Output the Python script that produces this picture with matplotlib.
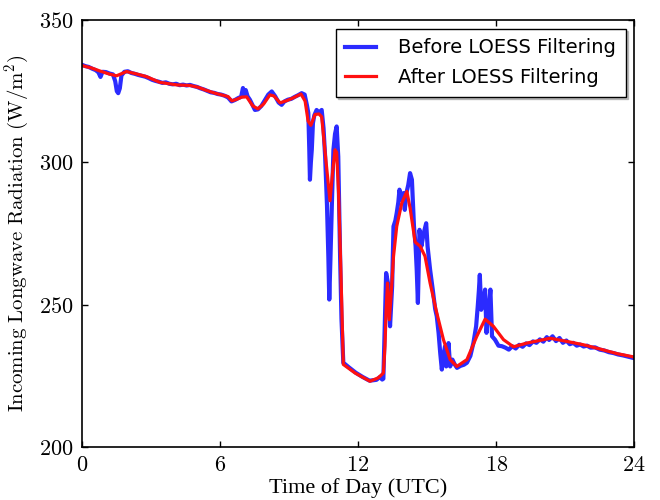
import matplotlib
matplotlib.use("Agg")
import matplotlib.pyplot as plt

# time of day (h) and incoming longwave radiation (W/m^2)
raw_t = [0.0, 0.15, 0.3, 0.45, 0.6, 0.72, 0.81, 0.9, 1.05, 1.2, 1.35, 1.45, 1.52, 1.58, 1.65,
         1.72, 1.85, 2.0, 2.15, 2.3, 2.45, 2.6, 2.75, 2.9, 3.05, 3.2, 3.35, 3.5, 3.65, 3.8,
         3.95, 4.1, 4.25, 4.4, 4.55, 4.7, 4.85, 5.0, 5.15, 5.3, 5.45, 5.6, 5.75, 5.9, 6.05,
         6.2, 6.35, 6.5, 6.65, 6.8, 6.92, 7.0, 7.05, 7.12, 7.2, 7.3, 7.45, 7.52, 7.65, 7.8,
         7.95, 8.1, 8.25, 8.4, 8.55, 8.68, 8.8, 8.95, 9.1, 9.25, 9.4, 9.55, 9.68, 9.78, 9.84,
         9.88, 9.91, 9.95, 9.99, 10.04, 10.1, 10.2, 10.3, 10.42, 10.5, 10.57, 10.65, 10.71, 10.75, 10.8,
         10.86, 10.93, 11.0, 11.07, 11.14, 11.18, 11.22, 11.28, 11.36, 11.6, 11.9, 12.2, 12.5, 12.8, 12.95,
         13.05, 13.1, 13.15, 13.22, 13.3, 13.35, 13.39, 13.44, 13.48, 13.54, 13.62, 13.68, 13.75, 13.8, 13.88,
         13.97, 14.03, 14.1, 14.18, 14.26, 14.34, 14.43, 14.5, 14.55, 14.6, 14.67, 14.75, 14.85, 14.96, 15.02,
         15.13, 15.25, 15.35, 15.42, 15.5, 15.57, 15.64, 15.7, 15.78, 15.83, 15.93, 16.0, 16.1, 16.2, 16.3,
         16.45, 16.6, 16.73, 16.88, 17.01, 17.13, 17.2, 17.25, 17.29, 17.35, 17.45, 17.52, 17.58, 17.65, 17.75,
         17.82, 17.95, 18.1, 18.25, 18.4, 18.55, 18.7, 18.85, 19.0, 19.15, 19.3, 19.45, 19.6, 19.75, 19.9,
         20.05, 20.2, 20.3, 20.45, 20.6, 20.75, 20.9, 21.05, 21.2, 21.35, 21.5, 21.65, 21.8, 21.95, 22.1,
         22.3, 22.5, 22.7, 22.9, 23.1, 23.3, 23.5, 23.7, 23.85, 24.0]
raw_lw = [334.3, 333.8, 333.5, 332.9, 332.4, 331.6, 330.0, 331.8, 331.7, 331.2, 330.9, 328.5, 325.0, 324.3, 326.0,
          330.5, 331.8, 332.0, 331.4, 331.1, 330.7, 330.4, 330.1, 329.6, 329.0, 328.6, 328.3, 327.9, 328.1, 327.6,
          327.4, 327.6, 327.1, 327.3, 327.0, 327.2, 326.8, 326.5, 326.0, 325.6, 325.1, 324.6, 324.4, 324.0, 323.8,
          323.4, 322.8, 321.4, 321.9, 322.6, 323.0, 326.1, 323.7, 325.4, 323.2, 322.0, 319.5, 318.4, 318.6, 319.8,
          321.8, 323.8, 324.9, 323.2, 321.0, 320.2, 321.4, 322.0, 322.3, 323.0, 323.6, 324.3, 323.8, 320.0, 317.3,
          305.0, 293.9, 300.0, 304.4, 313.8, 316.5, 318.4, 317.5, 318.4, 312.0, 302.0, 285.0, 266.9, 251.8, 266.0,
          284.5, 304.4, 310.0, 312.6, 302.0, 285.0, 266.9, 245.0, 229.6, 228.0, 226.1, 224.6, 223.3, 223.6, 224.6,
          223.7, 224.0, 240.0, 261.1, 257.6, 248.0, 242.4, 250.0, 256.4, 277.5, 279.5, 282.2, 286.0, 290.4, 286.8,
          289.2, 283.3, 289.2, 292.0, 296.2, 293.9, 277.5, 270.5, 262.0, 250.6, 276.3, 270.5, 275.0, 278.6, 270.5,
          262.3, 255.0, 248.5, 245.9, 240.0, 233.0, 227.2, 231.9, 235.4, 228.3, 236.5, 228.3, 230.7, 229.0, 227.8,
          228.5, 228.9, 229.6, 232.0, 236.5, 242.4, 249.4, 255.0, 260.5, 248.2, 252.0, 255.3, 240.1, 246.0, 255.3,
          238.9, 237.7, 235.6, 235.4, 234.9, 234.2, 235.4, 234.6, 235.9, 235.2, 236.4, 235.8, 237.1, 236.6, 237.8,
          237.0, 238.6, 237.6, 238.9, 237.2, 238.3, 236.6, 237.4, 236.1, 236.6, 235.6, 236.0, 235.3, 235.6, 234.9,
          235.0, 234.2, 233.9, 233.3, 233.0, 232.5, 232.2, 231.8, 231.5, 231.2]

smooth_t = [0.0, 0.4, 0.78, 1.2, 1.51, 1.94, 2.4, 2.81, 3.39, 4.12, 4.7, 5.04, 5.4, 5.78, 6.35,
            6.52, 6.75, 6.94, 7.16, 7.43, 7.65, 7.9, 8.17, 8.35, 8.61, 8.91, 9.17, 9.52, 9.7, 9.83,
            9.95, 10.13, 10.3, 10.42, 10.6, 10.78, 10.9, 11.0, 11.07, 11.15, 11.22, 11.36, 11.87, 12.2, 12.52,
            12.88, 13.1, 13.17, 13.22, 13.28, 13.36, 13.47, 13.54, 13.68, 13.9, 14.12, 14.26, 14.48, 14.7, 14.91,
            15.13, 15.42, 15.71, 16.0, 16.29, 16.73, 17.16, 17.52, 17.88, 18.32, 18.75, 19.33, 20.35, 21.07, 21.8,
            22.52, 23.25, 24.0]
smooth_lw = [334.0, 333.2, 332.1, 331.0, 330.4, 331.9, 331.0, 330.1, 328.1, 327.2, 327.0, 326.4, 325.3, 324.3, 323.1,
             321.6, 322.2, 322.9, 323.0, 319.8, 318.8, 320.5, 323.7, 323.3, 320.9, 321.7, 322.6, 324.0, 321.5, 314.5,
             313.0, 316.8, 317.0, 316.0, 301.0, 286.5, 297.0, 304.4, 303.5, 290.0, 272.0, 229.0, 226.0, 224.5, 223.1,
             224.3, 226.0, 235.4, 248.0, 257.6, 244.7, 257.6, 266.9, 277.5, 285.7, 289.8, 284.0, 272.0, 270.5, 267.0,
             257.6, 247.1, 237.7, 230.7, 228.3, 230.7, 238.9, 244.9, 242.4, 237.7, 235.2, 236.5, 238.2, 237.1, 235.9,
             234.4, 232.8, 231.6]

x_ticks = [0, 6, 12, 18, 24]
y_ticks = [200, 250, 300, 350]

plt.rcParams['mathtext.fontset'] = 'cm'

fig = plt.figure(figsize=(6.6, 5.0), dpi=100)
ax = fig.add_axes([0.124, 0.106, 0.837, 0.854])

ax.plot(raw_t, raw_lw, color='#2b2bff', lw=3.0, label='Before LOESS Filtering')
ax.plot(smooth_t, smooth_lw, color='#ff1010', lw=2.3, label='After LOESS Filtering')

ax.set_xlim(0, 24)
ax.set_ylim(200, 350)
ax.set_xticks(x_ticks, labels=['$%d$' % v for v in x_ticks])
ax.set_yticks(y_ticks, labels=['$%d$' % v for v in y_ticks])
ax.tick_params(direction='in', top=True, right=True, length=4, width=1, labelsize=16, pad=6)
for s in ax.spines.values():
    s.set_linewidth(1.2)

ax.set_xlabel('Time of Day (UTC)', family='Liberation Serif', fontsize=16, labelpad=2)
ax.set_ylabel(r'$\mathrm{Incoming\ Longwave\ Radiation\ (W/m^2)}$', fontsize=15, labelpad=6)

leg = ax.legend(loc='upper right', fontsize=14, fancybox=False,
                shadow={'ox': 1.5, 'oy': -1.5, 'color': '0.6', 'alpha': 0.6},
                handlelength=1.55, handletextpad=1.15, labelspacing=0.55,
                borderpad=0.5, borderaxespad=0.45, framealpha=1)
leg.get_frame().set_edgecolor('black')

fig.savefig('out.png')
